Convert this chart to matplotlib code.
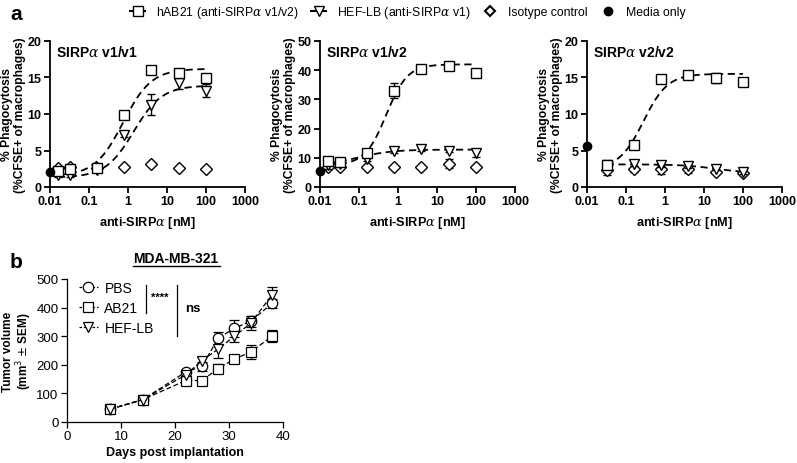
import numpy as np
import matplotlib
matplotlib.use('Agg')
from matplotlib import pyplot as plt
from matplotlib.lines import Line2D

plt.rcParams['font.family'] = ['Liberation Sans', 'DejaVu Sans']
plt.rcParams['mathtext.fontset'] = 'custom'
plt.rcParams['mathtext.it'] = 'DejaVu Serif:italic'

# ---- panel a data: anti-SIRPa dose response (nM) ----
dose = [0.016, 0.032, 0.16, 0.8, 4, 20, 100]
dose_v2 = [0.032, 0.16, 0.8, 4, 20, 100]

titles = ['SIRP$\\alpha$ v1/v1', 'SIRP$\\alpha$ v1/v2', 'SIRP$\\alpha$ v2/v2']
ymax = [20, 50, 20]
yticks = [[0, 5, 10, 15, 20], [0, 10, 20, 30, 40, 50], [0, 5, 10, 15, 20]]

hab21_v1v1 = [2.2, 2.5, 2.6, 9.9, 16.0, 15.6, 14.9]
hab21_v1v1_err = [0.2, 0.2, 0.2, 0.3, 0.2, 0.3, 0.3]
hef_v1v1 = [1.6, 1.7, 2.3, 7.1, 11.3, 14.2, 13.2]
hef_v1v1_err = [0.2, 0.3, 0.2, 0.3, 1.5, 0.8, 0.9]
iso_v1v1 = [2.6, 2.7, 2.6, 2.8, 3.1, 2.6, 2.5]
media_v1v1 = 2.0

hab21_v1v2 = [8.8, 8.5, 11.5, 33.0, 40.5, 41.5, 39.0]
hab21_v1v2_err = [0.5, 0.5, 0.8, 2.5, 0.5, 0.5, 0.5]
hef_v1v2 = [7.5, 8.0, 9.5, 12.5, 13.0, 12.5, 11.5]
hef_v1v2_err = [1.5, 0.8, 0.5, 0.8, 0.5, 0.5, 1.2]
iso_v1v2 = [7.0, 7.0, 7.0, 7.0, 6.8, 8.0, 6.7]
iso_v1v2_err = [0.3, 0.3, 0.3, 0.3, 0.3, 1.5, 0.3]
media_v1v2 = 5.5

hab21_v2v2 = [3.0, 5.8, 14.8, 15.4, 14.9, 14.4]
hab21_v2v2_err = [0.2, 0.2, 0.3, 0.2, 0.7, 0.2]
hef_v2v2 = [3.0, 3.2, 3.0, 2.9, 2.5, 2.0]
hef_v2v2_err = [0.2, 0.3, 0.3, 0.3, 0.2, 0.2]
iso_v2v2 = [2.3, 2.4, 2.4, 2.4, 2.1, 1.9]
iso_v2v2_err = [0.7, 0.3, 0.6, 0.5, 0.2, 0.2]
media_v2v2 = 5.6

# fitted 4PL parameters: bottom, top, EC50 (nM), hill
fit_hab21 = [[1.5, 16.2, 0.75, 1.2], [7.5, 42.0, 0.5, 1.6], [2.5, 15.5, 0.28, 1.4]]
fit_hef = [[1.3, 13.9, 1.4, 1.2], [7.5, 12.8, 0.1, 1.0], [3.1, 1.9, 20.0, 1.0]]

# ---- panel b data: MDA-MB-321 tumor growth ----
days = [8, 14, 22, 25, 28, 31, 34, 38]
pbs = [45, 78, 175, 195, 293, 328, 352, 415]
pbs_err = [5, 6, 8, 15, 22, 30, 20, 15]
ab21 = [45, 78, 145, 145, 187, 220, 245, 300]
ab21_err = [5, 6, 10, 12, 15, 12, 25, 20]
hef = [45, 78, 165, 215, 255, 300, 345, 445]
hef_err = [5, 6, 8, 12, 30, 22, 25, 28]
groups = ['PBS', 'AB21', 'HEF-LB']


def four_pl(x, p):
    bottom, top, ec50, hill = p
    return bottom + (top - bottom) / (1 + (ec50 / x) ** hill)


def style_axes(ax, bold=True, lw=1.3, size=9):
    for s in ['top', 'right']:
        ax.spines[s].set_visible(False)
    for s in ['left', 'bottom']:
        ax.spines[s].set_linewidth(lw)
    ax.tick_params(width=lw, length=4, labelsize=size, pad=2)
    if bold:
        for t in ax.get_xticklabels() + ax.get_yticklabels():
            t.set_fontweight('bold')


W, H = 797, 464
fig = plt.figure(figsize=(W / 100, H / 100), dpi=100)

lefts = [50, 320, 587]
panels = [
    (dose, hab21_v1v1, hab21_v1v1_err, hef_v1v1, hef_v1v1_err, iso_v1v1, None, media_v1v1),
    (dose, hab21_v1v2, hab21_v1v2_err, hef_v1v2, hef_v1v2_err, iso_v1v2, iso_v1v2_err, media_v1v2),
    (dose_v2, hab21_v2v2, hab21_v2v2_err, hef_v2v2, hef_v2v2_err, iso_v2v2, iso_v2v2_err, media_v2v2),
]
mk = dict(mfc='white', mec='black', mew=1.0, ms=6.5, ls='none')
eb = dict(ecolor='black', elinewidth=1.0, capsize=3, capthick=1.0)

for i, (x, sq, sq_e, tri, tri_e, iso, iso_e, media) in enumerate(panels):
    ax = fig.add_axes([lefts[i] / W, 1 - 188 / H, 195 / W, 146 / H])
    ax.set_xscale('log')
    ax.set_xlim(0.01, 1000)
    ax.set_ylim(0, ymax[i])
    xs = np.logspace(np.log10(x[0]), np.log10(x[-1]), 200)
    ax.plot(xs, four_pl(xs, fit_hab21[i]), 'k--', lw=1.3, dashes=(4, 2.5))
    ax.plot(xs, four_pl(xs, fit_hef[i]), 'k--', lw=1.3, dashes=(4, 2.5))
    ax.errorbar(x, iso, yerr=iso_e, marker='D', **mk, **eb, zorder=3)
    ax.errorbar(x, tri, yerr=tri_e, marker='v', **mk, **eb, zorder=4)
    ax.errorbar(x, sq, yerr=sq_e, marker='s', **mk, **eb, zorder=5)
    ax.plot([0.01], [media], 'o', color='black', ms=6, clip_on=False, zorder=6)
    ax.set_xticks([0.01, 0.1, 1, 10, 100, 1000])
    ax.set_xticklabels(['0.01', '0.1', '1', '10', '100', '1000'])
    ax.minorticks_off()
    ax.set_yticks(yticks[i])
    style_axes(ax)
    ax.text(0.03, 0.98, titles[i], transform=ax.transAxes, fontsize=10,
            fontweight='bold', va='top', ha='left')
    ax.set_xlabel('anti-SIRP$\\alpha$ [nM]', fontsize=9.2, fontweight='bold',
                  labelpad=5)
    ax.set_ylabel('% Phagocytosis\n(%CFSE+ of macrophages)', fontsize=8.7,
                  fontweight='bold', linespacing=1.05)
    ax.yaxis.set_label_coords(-0.125, 0.5)

# top legend
handles = [
    Line2D([], [], color='black', ls='-', marker='s', mfc='white', mec='black', ms=6.5),
    Line2D([], [], color='black', ls='-', marker='v', mfc='white', mec='black', ms=6.5),
    Line2D([], [], color='black', ls='none', marker='D', mfc='white', mec='black',
           ms=5.5, mew=1.5),
    Line2D([], [], color='black', ls='none', marker='o', ms=6),
]
labels = ['hAB21 (anti-SIRP$\\alpha$ v1/v2)', 'HEF-LB (anti-SIRP$\\alpha$ v1)',
          'Isotype control', 'Media only']
fig.legend(handles, labels, loc='center', bbox_to_anchor=(408 / W, 1 - 13 / H),
           ncol=4, frameon=False, fontsize=8.8, handlelength=1.2,
           columnspacing=1.0, handletextpad=0.9)

fig.text(10 / W, 1 - 14 / H, 'a', fontsize=15, fontweight='bold', va='center')
fig.text(10 / W, 1 - 262 / H, 'b', fontsize=15, fontweight='bold', va='center')

# panel b
axb = fig.add_axes([67 / W, 1 - 423 / H, 216 / W, 143 / H])
ebb = dict(ecolor='black', elinewidth=0.9, capsize=3.5, capthick=0.9)
mkb = dict(mfc='white', mec='black', mew=0.9, ms=7.5, color='black', lw=0.9,
           dashes=(4, 2))
markers_b = ['o', 's', 'v']
for y, e, m in zip([pbs, ab21, hef], [pbs_err, ab21_err, hef_err], markers_b):
    axb.errorbar(days, y, yerr=e, marker=m, **mkb, **ebb)
axb.set_xlim(0, 40)
axb.set_ylim(0, 500)
axb.set_xticks([0, 10, 20, 30, 40])
axb.set_yticks([0, 100, 200, 300, 400, 500])
style_axes(axb, bold=False, lw=0.9, size=9.5)
axb.set_xlabel('Days post implantation', fontsize=9, fontweight='bold', labelpad=3)
axb.set_ylabel('Tumor volume\n(mm$^3$ $\\pm$ SEM)', fontsize=8.5, fontweight='bold',
               linespacing=1.0)
axb.yaxis.set_label_coords(-0.155, 0.5)

# title with underline
fig.text(176 / W, 1 - 259 / H, 'MDA-MB-321', fontsize=10, fontweight='bold',
         ha='center', va='center')
fig.add_artist(Line2D([133 / W, 220 / W], [1 - 267 / H, 1 - 267 / H],
                      color='black', lw=1.0))

bhandles = [Line2D([], [], color='black', lw=0.9, dashes=(2, 1.5), marker=m,
                   mfc='white', mec='black', ms=7.5, mew=0.9) for m in markers_b]
axb.legend(bhandles, groups, loc='upper left', bbox_to_anchor=(0.032, 1.028),
           frameon=False, fontsize=10, handlelength=1.3, handletextpad=0.5,
           labelspacing=0.45, borderaxespad=0)

# significance brackets (axes coordinates)
axb.plot([0.365, 0.365], [0.76, 0.96], color='black', lw=0.9,
         transform=axb.transAxes, clip_on=False)
axb.text(0.39, 0.875, '****', transform=axb.transAxes, fontsize=8,
         fontweight='bold', va='center')
axb.plot([0.51, 0.51], [0.60, 0.96], color='black', lw=0.9,
         transform=axb.transAxes, clip_on=False)
axb.text(0.545, 0.80, 'ns', transform=axb.transAxes, fontsize=9.5,
         fontweight='bold', va='center')

fig.savefig('out.png', dpi=100)
